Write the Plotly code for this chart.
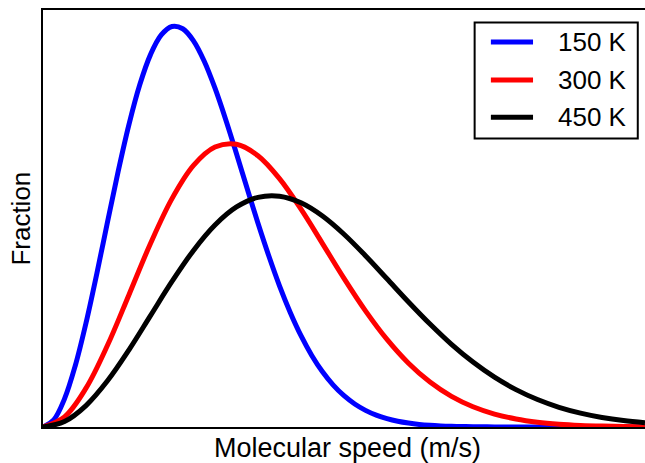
import plotly.graph_objects as go

# Molecular speed (m/s); the 150 K curve is sampled more finely where it is steep
speed_150 = [0, 25, 50, 75, 100, 125, 150, 175, 200, 225, 250, 275, 300, 325, 350, 375,
             400, 425, 450, 475, 500, 525, 550, 575, 600, 625, 650, 675, 700, 725, 750,
             775, 800, 825, 850, 875, 900, 925, 950, 975, 1000, 1050, 1100, 1150, 1200,
             1250, 1300, 1350, 1400]
speed = [0, 50, 100, 150, 200, 250, 300, 350, 400, 450, 500, 550, 600, 650, 700,
         750, 800, 850, 900, 950, 1000, 1050, 1100, 1150, 1200, 1250, 1300, 1350, 1400]

# Relative fraction of molecules at each speed
frac_150 = [0.0, 0.0179, 0.0702, 0.1528, 0.2594, 0.3818, 0.5111, 0.6383, 0.7547, 0.8533,
            0.9287, 0.9777, 0.9989, 0.9933, 0.9631, 0.9122, 0.8449, 0.7664, 0.6813, 0.5940,
            0.5080, 0.4270, 0.3521, 0.2857, 0.2277, 0.1785, 0.1377, 0.1045, 0.0780, 0.0573,
            0.0415, 0.0296, 0.0208, 0.0143, 0.0098, 0.0065, 0.0043, 0.0028, 0.0018, 0.0011,
            0.0007, 0.0003, 0.0001, 0.0, 0.0, 0.0, 0.0, 0.0, 0.0]
frac_300 = [0.0, 0.0252, 0.0968, 0.2037, 0.3300, 0.4576, 0.5695, 0.6523, 0.6982, 0.7051,
            0.6765, 0.6194, 0.5432, 0.4575, 0.3708, 0.2897, 0.2184, 0.1591, 0.1121, 0.0764,
            0.0505, 0.0323, 0.0200, 0.0120, 0.0070, 0.0040, 0.0022, 0.0012, 0.0006]
frac_450 = [0.0, 0.0137, 0.0535, 0.1152, 0.1924, 0.2777, 0.3629, 0.4404, 0.5038, 0.5487,
            0.5728, 0.5757, 0.5592, 0.5262, 0.4808, 0.4272, 0.3696, 0.3118, 0.2567, 0.2061,
            0.1619, 0.1242, 0.0932, 0.0685, 0.0492, 0.0347, 0.0239, 0.0161, 0.0107]

labels = ["150 K", "300 K", "450 K"]
colors = ["#0000ff", "#ff0000", "#000000"]
xs = [speed_150, speed, speed]
series = [frac_150, frac_300, frac_450]

FONT = "Liberation Sans, Arial, sans-serif"

fig = go.Figure()
for name, xv, ys, col in zip(labels, xs, series, colors):
    fig.add_trace(go.Scatter(
        x=xv, y=ys, name=name, mode="lines",
        line=dict(color=col, width=5, shape="spline", smoothing=1.0),
        showlegend=False,
    ))

# Boxed legend in the upper-right corner
lx0, lx1, ly0, ly1 = 0.717, 0.988, 0.692, 0.970   # paper coords of legend box
shapes = [dict(type="rect", xref="paper", yref="paper", x0=lx0, x1=lx1, y0=ly0, y1=ly1,
               line=dict(color="black", width=2), fillcolor="white", layer="above")]
annotations = []
row_y = [0.923, 0.832, 0.743]
for name, col, yy in zip(labels, colors, row_y):
    shapes.append(dict(type="line", xref="paper", yref="paper", x0=0.744, x1=0.814,
                       y0=yy, y1=yy, line=dict(color=col, width=5), layer="above"))
    annotations.append(dict(xref="paper", yref="paper", x=0.974, y=yy, text=name,
                            showarrow=False, xanchor="right", yanchor="middle",
                            font=dict(size=26, color="black", family=FONT)))

# Axis titles
annotations.append(dict(xref="paper", yref="paper", x=0.505, y=-0.05,
                        text="Molecular speed (m/s)", showarrow=False,
                        xanchor="center", yanchor="middle",
                        font=dict(size=27, color="black", family=FONT)))
annotations.append(dict(xref="paper", yref="paper", x=-0.038, y=0.5,
                        text="Fraction", showarrow=False, textangle=-90,
                        xanchor="center", yanchor="middle",
                        font=dict(size=26, color="black", family=FONT)))

fig.update_layout(
    width=645, height=463,
    margin=dict(l=43, r=0, t=10, b=36),
    paper_bgcolor="white", plot_bgcolor="white",
    shapes=shapes, annotations=annotations,
    font=dict(family=FONT, color="black"),
)
fig.update_xaxes(range=[0, 1400], showgrid=False, zeroline=False, showticklabels=False,
                 ticks="", showline=True, linecolor="black", linewidth=2, mirror=True)
fig.update_yaxes(range=[0, 1.04], showgrid=False, zeroline=False, showticklabels=False,
                 ticks="", showline=True, linecolor="black", linewidth=2)

fig.write_html("out.html")
